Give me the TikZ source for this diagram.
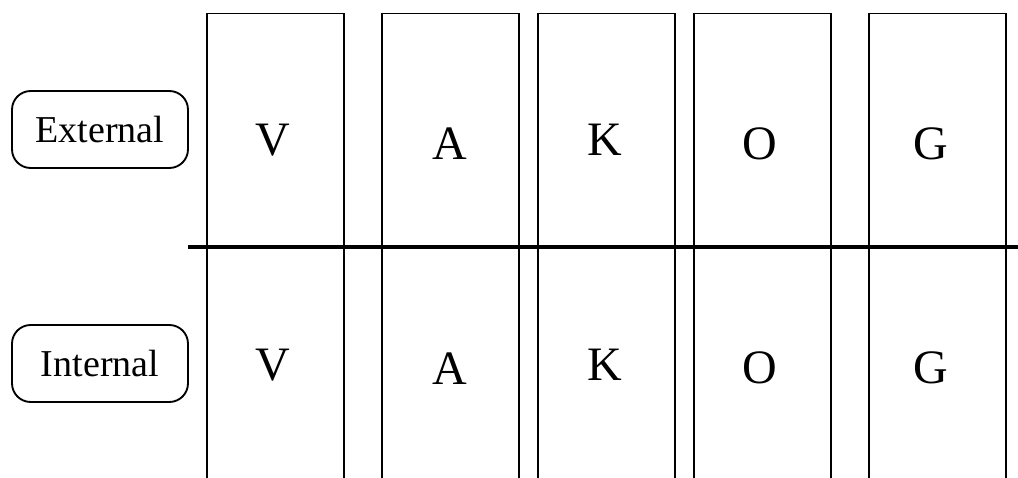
\documentclass[tikz,border=0pt]{standalone}
\usepackage{fontspec}
\setmainfont{Liberation Serif}
\begin{document}
\begin{tikzpicture}[
  x=0.75pt,
  y=-0.75pt,
  column/.style={draw=black,line width=1.1pt,minimum width=102.75pt,
    minimum height=400pt,anchor=north,inner sep=0pt},
  layer/.style={draw=black,line width=1.4pt,rounded corners=14pt,
    minimum width=132pt,minimum height=57.75pt,inner sep=0pt,
    font=\fontsize{28.5}{30}\selectfont},
  letter/.style={anchor=base,inner sep=0pt,font=\fontsize{36}{40}\selectfont}
]
  \useasboundingbox (0,0) rectangle (1018,478);
  \clip (0,0) rectangle (1018,478);

  % Columns run off the bottom edge.
  \foreach \name/\cx in {V/275.5,A/450.5,K/606.5,O/762.5,G/937.5} {
    \node[column] (col\name) at (\cx,12.7) {};
  }

  % Same letters above and below the rule.
  \foreach \name/\lx/\ly in {V/273/156,A/450/160,K/605/156,O/760/159,G/931/159} {
    \node[letter] (ext\name) at (\lx,\ly) {\name};
    \node[letter] (int\name) at (\lx,\ly+224) {\name};
  }

  % Dividing rule.
  \coordinate (rule west) at (188,247);
  \coordinate (rule east) at (1018,247);
  \draw[line width=3pt] (rule west) -- (rule east);

  % Row labels.
  \node[layer] (external) at (100,129.5) {External};
  \node[layer] (internal) at (100,363.5) {Internal};
\end{tikzpicture}
\end{document}
